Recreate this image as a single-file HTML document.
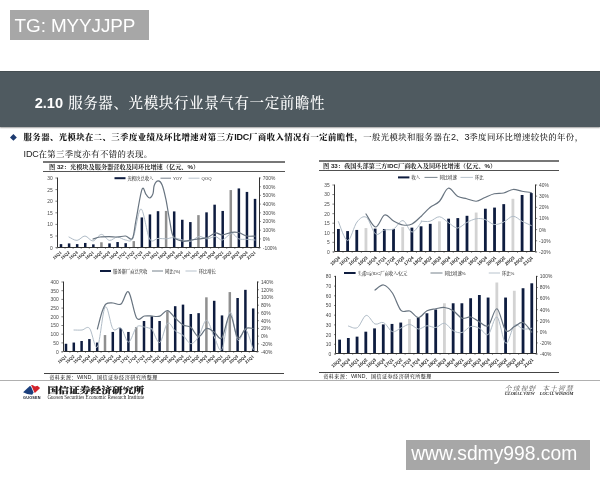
<!DOCTYPE html>
<html lang="zh-CN">
<head>
<meta charset="utf-8">
<title>2.10 服务器、光模块行业景气有一定前瞻性</title>
<style>
html,body{margin:0;padding:0;background:#fff;}
body{width:600px;height:480px;position:relative;overflow:hidden;font-family:"Liberation Sans","Noto Serif CJK SC",sans-serif;color:#111;}
.abs{position:absolute;white-space:nowrap;}
.tag{left:10px;top:10px;width:138.8px;height:29.8px;background:#a7a7a7;color:#fff;font-size:18.9px;line-height:30px;}
.tag span{position:absolute;left:4.6px;top:0.7px;letter-spacing:-0.1px;}
.banner{left:0;top:71px;width:600px;height:56px;background:#4f5a60;border-top:1px solid #454e52;box-sizing:border-box;box-shadow:0 0.6px 1.2px rgba(0,0,0,0.35);}
.title{left:34.7px;top:92.2px;height:22px;line-height:22px;font-size:14.5px;letter-spacing:0.62px;color:#fff;font-weight:500;}
.title b{font-size:14.6px;font-weight:bold;letter-spacing:0;margin-right:0.4px;}
.bul{left:10.3px;top:134.3px;width:6.8px;height:6.8px;}
.p1,.p2{left:23.6px;font-size:8.4px;line-height:12px;height:12px;color:#1a1a1a;letter-spacing:0.4px;}
.p1 i,.p2 i{font-style:normal;font-size:9px;letter-spacing:-0.2px;}
.p1{top:131px;}
.p2{top:148.1px;}
.p1,.p2{font-weight:500;}
.p1 b{font-weight:900;}
.p1 i,.p2 i{font-weight:normal;}
.p1 b i{font-weight:bold;}
.hl{background:#3c3c3c;height:1px;}
.ft{font-size:6.2px;font-weight:bold;color:#222;line-height:8px;height:8px;}
.src{font-size:5.1px;color:#2a2a2a;line-height:8px;height:8px;letter-spacing:0.42px;font-weight:500;}
.src i{font-style:normal;font-size:5.5px;letter-spacing:0;font-weight:normal;}
.wm{left:406px;top:440px;width:184px;height:29.8px;background:#a7a7a7;color:#fff;font-size:19.3px;line-height:30px;}
.wm span{position:absolute;left:5.2px;top:-0.7px;}
.gx{left:47.6px;top:384.3px;font-family:"Liberation Serif","Noto Serif CJK SC",serif;font-weight:900;font-size:10.76px;line-height:12px;color:#151515;-webkit-text-stroke:0.25px #151515;transform:scaleY(0.76);transform-origin:0 50%;}
.gxe{left:47.4px;top:393.7px;font-family:"Liberation Serif",serif;font-size:5.1px;line-height:6px;color:#2a2a2a;}
.sl{left:504.6px;top:385px;font-size:7px;line-height:8px;color:#555;font-style:italic;letter-spacing:0.9px;}
.sle{left:504.8px;top:391.3px;font-family:"Liberation Serif",serif;font-size:4.4px;font-weight:bold;line-height:5px;color:#2a2a2a;font-style:italic;}
svg{position:absolute;left:0;top:0;}
svg text{font-family:"Liberation Sans","Noto Serif CJK SC",sans-serif;}
.al{font-size:4.9px;fill:#484848;}
.xl{font-size:4.2px;fill:#262626;font-weight:bold;}
.lg{font-size:4.3px;fill:#2a2a2a;font-weight:500;}
</style>
</head>
<body>
<div class="abs tag"><span>TG: MYYJJPP</span></div>
<div class="abs banner"></div>
<div class="abs title"><b>2.10</b> 服务器、光模块行业景气有一定前瞻性</div>
<svg class="abs bul" viewBox="0 0 10 10"><path d="M5 0L10 5L5 10L0 5Z" fill="#1d3a70"/></svg>
<div class="abs p1"><b>服务器、光模块在二、三季度业绩及环比增速对第三方<i>IDC</i>厂商收入情况有一定前瞻性，</b>一般光模块和服务器在<i>2</i>、<i>3</i>季度同环比增速较快的年份，</div>
<div class="abs p2"><i>IDC</i>在第三季度亦有不错的表现。</div>

<div class="abs hl" style="left:43px;top:161.2px;width:241.6px;height:1.5px;background:#777;"></div>
<div class="abs ft" style="left:49px;top:162.8px;">图 32：光模块及服务器营收及同环比增速（亿元、%）</div>
<div class="abs hl" style="left:43px;top:170.9px;width:241.6px;height:1.1px;background:#555;"></div>

<div class="abs hl" style="left:319px;top:160.4px;width:239.8px;height:1.3px;background:#777;"></div>
<div class="abs ft" style="left:323px;top:162.1px;">图 33：我国头部第三方IDC厂商收入及同环比增速（亿元、%）</div>
<div class="abs hl" style="left:319px;top:169.9px;width:239.8px;height:1px;background:#505050;"></div>

<svg width="600" height="480" viewBox="0 0 600 480">
<rect x="59.75" y="244.12" width="2.50" height="3.48" fill="#0e1c3f"/>
<rect x="67.84" y="243.42" width="2.50" height="4.18" fill="#0e1c3f"/>
<rect x="75.92" y="244.12" width="2.50" height="3.48" fill="#0e1c3f"/>
<rect x="84.00" y="242.96" width="2.50" height="4.64" fill="#0e1c3f"/>
<rect x="92.09" y="244.35" width="2.50" height="3.25" fill="#0e1c3f"/>
<rect x="100.18" y="242.26" width="2.50" height="5.34" fill="#8f8f8f"/>
<rect x="108.26" y="243.42" width="2.50" height="4.18" fill="#0e1c3f"/>
<rect x="116.34" y="242.03" width="2.50" height="5.57" fill="#0e1c3f"/>
<rect x="124.43" y="243.19" width="2.50" height="4.41" fill="#0e1c3f"/>
<rect x="132.52" y="241.10" width="2.50" height="6.50" fill="#8f8f8f"/>
<rect x="140.60" y="217.44" width="2.50" height="30.16" fill="#0e1c3f"/>
<rect x="148.69" y="214.42" width="2.50" height="33.18" fill="#0e1c3f"/>
<rect x="156.77" y="211.18" width="2.50" height="36.42" fill="#0e1c3f"/>
<rect x="164.86" y="210.94" width="2.50" height="36.66" fill="#8f8f8f"/>
<rect x="172.94" y="211.41" width="2.50" height="36.19" fill="#0e1c3f"/>
<rect x="181.03" y="219.76" width="2.50" height="27.84" fill="#0e1c3f"/>
<rect x="189.11" y="222.08" width="2.50" height="25.52" fill="#0e1c3f"/>
<rect x="197.20" y="215.12" width="2.50" height="32.48" fill="#8f8f8f"/>
<rect x="205.28" y="212.34" width="2.50" height="35.26" fill="#0e1c3f"/>
<rect x="213.37" y="204.68" width="2.50" height="42.92" fill="#0e1c3f"/>
<rect x="221.45" y="210.94" width="2.50" height="36.66" fill="#0e1c3f"/>
<rect x="229.54" y="190.06" width="2.50" height="57.54" fill="#8f8f8f"/>
<rect x="237.62" y="188.44" width="2.50" height="59.16" fill="#0e1c3f"/>
<rect x="245.71" y="191.92" width="2.50" height="55.68" fill="#0e1c3f"/>
<rect x="253.79" y="198.88" width="2.50" height="48.72" fill="#0e1c3f"/>
<path d="M69.00 237.00C70.33 237.57 74.33 240.57 77.00 240.40C79.67 240.23 82.33 235.90 85.00 236.00C87.67 236.10 90.27 241.27 93.00 241.00C95.73 240.73 98.67 234.50 101.40 234.40C104.13 234.30 106.73 239.97 109.40 240.40C112.07 240.83 114.70 237.07 117.40 237.00C120.10 236.93 123.00 239.83 125.60 240.00C128.20 240.17 130.43 243.17 133.00 238.00C135.57 232.83 138.23 208.83 141.00 209.00C143.77 209.17 146.77 234.10 149.60 239.00C152.43 243.90 155.21 238.43 158.00 238.40C160.79 238.37 163.78 238.96 166.33 238.83C168.89 238.71 170.61 237.47 173.33 237.67C176.06 237.86 179.75 239.42 182.67 240.00C185.58 240.58 188.11 241.75 190.83 241.17C193.56 240.58 196.28 236.89 199.00 236.50C201.72 236.11 204.44 238.83 207.17 238.83C209.89 238.83 212.81 236.31 215.33 236.50C217.86 236.69 219.61 240.51 222.33 240.00C225.06 239.49 228.94 233.66 231.67 233.47C234.39 233.27 236.14 237.86 238.67 238.83C241.19 239.81 244.11 239.11 246.83 239.30C249.56 239.49 253.64 239.88 255.00 240.00" fill="none" stroke="#b0bcc7" stroke-width="1.0" stroke-linejoin="round" stroke-linecap="round"/>
<path d="M93.00 239.00C94.17 238.67 97.33 237.40 100.00 237.00C102.67 236.60 106.10 236.60 109.00 236.60C111.90 236.60 114.63 237.10 117.40 237.00C120.17 236.90 123.10 235.77 125.60 236.00C128.10 236.23 130.67 241.07 132.40 238.40C134.13 235.73 134.40 228.17 136.00 220.00C137.60 211.83 140.33 193.67 142.00 189.40C143.67 185.13 144.73 192.97 146.00 194.40C147.27 195.83 148.43 198.13 149.60 198.00C150.77 197.87 152.23 195.70 153.00 193.60C153.77 191.50 153.34 187.51 154.20 185.40C155.06 183.29 156.84 181.04 158.17 180.97C159.49 180.89 160.85 181.90 162.13 184.93C163.42 187.97 164.62 193.29 165.87 199.17C167.11 205.04 168.36 213.94 169.60 220.17C170.84 226.39 171.16 233.00 173.33 236.50C175.51 240.00 179.75 240.58 182.67 241.17C185.58 241.75 188.11 240.39 190.83 240.00C193.56 239.61 196.28 239.22 199.00 238.83C201.72 238.44 204.44 238.64 207.17 237.67C209.89 236.69 212.81 233.47 215.33 233.00C217.86 232.53 219.61 234.98 222.33 234.87C225.06 234.75 228.94 232.69 231.67 232.30C234.39 231.91 236.14 231.91 238.67 232.53C241.19 233.16 244.11 235.45 246.83 236.03C249.56 236.62 253.64 236.03 255.00 236.03" fill="none" stroke="#687480" stroke-width="1.2" stroke-linejoin="round" stroke-linecap="round"/>
<path d="M57.50 177.50 V247.50 H259.50 V177.50" fill="none" stroke="#333" stroke-width="1"/>
<path d="M56.96 247.50v1.3M65.04 247.50v1.3M73.13 247.50v1.3M81.21 247.50v1.3M89.30 247.50v1.3M97.38 247.50v1.3M105.47 247.50v1.3M113.55 247.50v1.3M121.64 247.50v1.3M129.72 247.50v1.3M137.81 247.50v1.3M145.89 247.50v1.3M153.98 247.50v1.3M162.06 247.50v1.3M170.15 247.50v1.3M178.23 247.50v1.3M186.32 247.50v1.3M194.40 247.50v1.3M202.49 247.50v1.3M210.57 247.50v1.3M218.66 247.50v1.3M226.74 247.50v1.3M234.83 247.50v1.3M242.91 247.50v1.3M251.00 247.50v1.3M259.08 247.50v1.3" stroke="#333" stroke-width="0.6"/>
<path d="M57.00 247.60 h-1.6" stroke="#333" stroke-width="0.6"/>
<text x="52.70" y="249.50" text-anchor="end" class="al">0</text>
<path d="M57.00 236.00 h-1.6" stroke="#333" stroke-width="0.6"/>
<text x="52.70" y="237.90" text-anchor="end" class="al">5</text>
<path d="M57.00 224.40 h-1.6" stroke="#333" stroke-width="0.6"/>
<text x="52.70" y="226.30" text-anchor="end" class="al">10</text>
<path d="M57.00 212.80 h-1.6" stroke="#333" stroke-width="0.6"/>
<text x="52.70" y="214.70" text-anchor="end" class="al">15</text>
<path d="M57.00 201.20 h-1.6" stroke="#333" stroke-width="0.6"/>
<text x="52.70" y="203.10" text-anchor="end" class="al">20</text>
<path d="M57.00 189.60 h-1.6" stroke="#333" stroke-width="0.6"/>
<text x="52.70" y="191.50" text-anchor="end" class="al">25</text>
<path d="M57.00 178.00 h-1.6" stroke="#333" stroke-width="0.6"/>
<text x="52.70" y="179.90" text-anchor="end" class="al">30</text>
<path d="M259.20 247.60 h1.6" stroke="#333" stroke-width="0.6"/>
<text x="262.80" y="249.50" text-anchor="start" class="al">-100%</text>
<path d="M259.20 238.90 h1.6" stroke="#333" stroke-width="0.6"/>
<text x="262.80" y="240.80" text-anchor="start" class="al">0%</text>
<path d="M259.20 230.20 h1.6" stroke="#333" stroke-width="0.6"/>
<text x="262.80" y="232.10" text-anchor="start" class="al">100%</text>
<path d="M259.20 221.50 h1.6" stroke="#333" stroke-width="0.6"/>
<text x="262.80" y="223.40" text-anchor="start" class="al">200%</text>
<path d="M259.20 212.80 h1.6" stroke="#333" stroke-width="0.6"/>
<text x="262.80" y="214.70" text-anchor="start" class="al">300%</text>
<path d="M259.20 204.10 h1.6" stroke="#333" stroke-width="0.6"/>
<text x="262.80" y="206.00" text-anchor="start" class="al">400%</text>
<path d="M259.20 195.40 h1.6" stroke="#333" stroke-width="0.6"/>
<text x="262.80" y="197.30" text-anchor="start" class="al">500%</text>
<path d="M259.20 186.70 h1.6" stroke="#333" stroke-width="0.6"/>
<text x="262.80" y="188.60" text-anchor="start" class="al">600%</text>
<path d="M259.20 178.00 h1.6" stroke="#333" stroke-width="0.6"/>
<text x="262.80" y="179.90" text-anchor="start" class="al">700%</text>
<text transform="translate(62.00 253.00) rotate(-41)" text-anchor="end" class="xl" style="font-size:4.2px">15Q1</text>
<text transform="translate(70.09 253.00) rotate(-41)" text-anchor="end" class="xl" style="font-size:4.2px">15Q2</text>
<text transform="translate(78.17 253.00) rotate(-41)" text-anchor="end" class="xl" style="font-size:4.2px">15Q3</text>
<text transform="translate(86.25 253.00) rotate(-41)" text-anchor="end" class="xl" style="font-size:4.2px">15Q4</text>
<text transform="translate(94.34 253.00) rotate(-41)" text-anchor="end" class="xl" style="font-size:4.2px">16Q1</text>
<text transform="translate(102.43 253.00) rotate(-41)" text-anchor="end" class="xl" style="font-size:4.2px">16Q2</text>
<text transform="translate(110.51 253.00) rotate(-41)" text-anchor="end" class="xl" style="font-size:4.2px">16Q3</text>
<text transform="translate(118.59 253.00) rotate(-41)" text-anchor="end" class="xl" style="font-size:4.2px">16Q4</text>
<text transform="translate(126.68 253.00) rotate(-41)" text-anchor="end" class="xl" style="font-size:4.2px">17Q1</text>
<text transform="translate(134.77 253.00) rotate(-41)" text-anchor="end" class="xl" style="font-size:4.2px">17Q2</text>
<text transform="translate(142.85 253.00) rotate(-41)" text-anchor="end" class="xl" style="font-size:4.2px">17Q3</text>
<text transform="translate(150.94 253.00) rotate(-41)" text-anchor="end" class="xl" style="font-size:4.2px">17Q4</text>
<text transform="translate(159.02 253.00) rotate(-41)" text-anchor="end" class="xl" style="font-size:4.2px">18Q1</text>
<text transform="translate(167.11 253.00) rotate(-41)" text-anchor="end" class="xl" style="font-size:4.2px">18Q2</text>
<text transform="translate(175.19 253.00) rotate(-41)" text-anchor="end" class="xl" style="font-size:4.2px">18Q3</text>
<text transform="translate(183.28 253.00) rotate(-41)" text-anchor="end" class="xl" style="font-size:4.2px">18Q4</text>
<text transform="translate(191.36 253.00) rotate(-41)" text-anchor="end" class="xl" style="font-size:4.2px">19Q1</text>
<text transform="translate(199.45 253.00) rotate(-41)" text-anchor="end" class="xl" style="font-size:4.2px">19Q2</text>
<text transform="translate(207.53 253.00) rotate(-41)" text-anchor="end" class="xl" style="font-size:4.2px">19Q3</text>
<text transform="translate(215.62 253.00) rotate(-41)" text-anchor="end" class="xl" style="font-size:4.2px">19Q4</text>
<text transform="translate(223.70 253.00) rotate(-41)" text-anchor="end" class="xl" style="font-size:4.2px">20Q1</text>
<text transform="translate(231.79 253.00) rotate(-41)" text-anchor="end" class="xl" style="font-size:4.2px">20Q2</text>
<text transform="translate(239.87 253.00) rotate(-41)" text-anchor="end" class="xl" style="font-size:4.2px">20Q3</text>
<text transform="translate(247.96 253.00) rotate(-41)" text-anchor="end" class="xl" style="font-size:4.2px">20Q4</text>
<text transform="translate(256.04 253.00) rotate(-41)" text-anchor="end" class="xl" style="font-size:4.2px">21Q1</text>
<rect x="114.50" y="177.20" width="11.00" height="2" fill="#0e1c3f"/>
<text x="127.50" y="180.00" class="lg">光模块总收入</text>
<path d="M160.50 178.20 H171.00" stroke="#687480" stroke-width="0.9"/>
<text x="173.00" y="180.00" class="lg">YOY</text>
<path d="M188.50 178.20 H199.50" stroke="#b0bcc7" stroke-width="0.9"/>
<text x="201.50" y="180.00" class="lg">QOQ</text>
<rect x="64.75" y="343.77" width="2.50" height="7.83" fill="#0e1c3f"/>
<rect x="72.55" y="342.55" width="2.50" height="9.05" fill="#0e1c3f"/>
<rect x="80.35" y="340.99" width="2.50" height="10.61" fill="#0e1c3f"/>
<rect x="88.15" y="339.07" width="2.50" height="12.53" fill="#0e1c3f"/>
<rect x="95.95" y="342.55" width="2.50" height="9.05" fill="#0e1c3f"/>
<rect x="103.75" y="335.07" width="2.50" height="16.53" fill="#8f8f8f"/>
<rect x="111.55" y="331.94" width="2.50" height="19.66" fill="#0e1c3f"/>
<rect x="119.35" y="328.11" width="2.50" height="23.49" fill="#0e1c3f"/>
<rect x="127.15" y="331.94" width="2.50" height="19.66" fill="#0e1c3f"/>
<rect x="134.95" y="327.07" width="2.50" height="24.53" fill="#8f8f8f"/>
<rect x="142.75" y="320.98" width="2.50" height="30.62" fill="#0e1c3f"/>
<rect x="150.55" y="316.28" width="2.50" height="35.32" fill="#0e1c3f"/>
<rect x="158.35" y="320.98" width="2.50" height="30.62" fill="#0e1c3f"/>
<rect x="166.15" y="311.23" width="2.50" height="40.37" fill="#8f8f8f"/>
<rect x="173.95" y="306.19" width="2.50" height="45.41" fill="#0e1c3f"/>
<rect x="181.75" y="304.62" width="2.50" height="46.98" fill="#0e1c3f"/>
<rect x="189.55" y="314.02" width="2.50" height="37.58" fill="#0e1c3f"/>
<rect x="197.35" y="313.15" width="2.50" height="38.45" fill="#0e1c3f"/>
<rect x="205.15" y="297.31" width="2.50" height="54.29" fill="#8f8f8f"/>
<rect x="212.95" y="300.79" width="2.50" height="50.81" fill="#0e1c3f"/>
<rect x="220.75" y="315.41" width="2.50" height="36.19" fill="#0e1c3f"/>
<rect x="228.55" y="292.09" width="2.50" height="59.51" fill="#8f8f8f"/>
<rect x="236.35" y="298.01" width="2.50" height="53.59" fill="#0e1c3f"/>
<rect x="244.15" y="289.83" width="2.50" height="61.77" fill="#0e1c3f"/>
<rect x="251.95" y="308.45" width="2.50" height="43.15" fill="#0e1c3f"/>
<path d="M74.00 330.00C75.33 330.00 79.40 330.27 82.00 330.00C84.60 329.73 87.03 325.57 89.60 328.40C92.17 331.23 94.80 350.57 97.40 347.00C100.00 343.43 102.60 310.00 105.20 307.00C107.80 304.00 110.37 325.50 113.00 329.00C115.63 332.50 118.40 325.83 121.00 328.00C123.60 330.17 126.00 342.17 128.60 342.00C131.20 341.83 133.97 329.50 136.60 327.00C139.23 324.50 141.83 326.67 144.40 327.00C146.97 327.33 150.68 328.56 152.00 329.00C153.32 329.44 151.03 327.42 152.33 329.67C153.63 331.92 157.27 343.59 159.80 342.50C162.33 341.41 164.93 325.08 167.50 323.13C170.07 321.19 172.59 328.77 175.20 330.83C177.81 332.89 180.53 333.36 183.13 335.50C185.74 337.64 188.27 343.47 190.83 343.67C193.40 343.86 195.93 340.56 198.53 336.67C201.14 332.78 203.86 320.33 206.47 320.33C209.07 320.33 211.60 331.81 214.17 336.67C216.73 341.53 219.22 353.58 221.87 349.50C224.51 345.42 227.39 313.72 230.03 312.17C232.68 310.61 235.13 337.25 237.73 340.17C240.34 343.08 243.10 328.11 245.67 329.67C248.23 331.22 251.89 346.19 253.13 349.50" fill="none" stroke="#b0bcc7" stroke-width="1.0" stroke-linejoin="round" stroke-linecap="round"/>
<path d="M97.40 329.00C98.17 326.17 100.57 316.17 102.00 312.00C103.43 307.83 104.17 305.50 106.00 304.00C107.83 302.50 110.50 303.00 113.00 303.00C115.50 303.00 118.40 305.83 121.00 304.00C123.60 302.17 126.00 289.67 128.60 292.00C131.20 294.33 133.97 314.00 136.60 318.00C139.23 322.00 141.83 316.33 144.40 316.00C146.97 315.67 150.68 315.98 152.00 316.00C153.32 316.02 151.03 316.11 152.33 316.13C153.63 316.16 157.27 317.07 159.80 316.13C162.33 315.20 164.93 310.22 167.50 310.53C170.07 310.84 172.59 315.59 175.20 318.00C177.81 320.41 180.53 323.44 183.13 325.00C185.74 326.56 188.27 325.39 190.83 327.33C193.40 329.28 195.93 336.47 198.53 336.67C201.14 336.86 203.86 329.28 206.47 328.50C209.07 327.72 211.60 330.44 214.17 332.00C216.73 333.56 219.22 340.75 221.87 337.83C224.51 334.92 227.39 314.50 230.03 314.50C232.68 314.50 235.13 335.50 237.73 337.83C240.34 340.17 243.10 330.06 245.67 328.50C248.23 326.94 251.89 328.50 253.13 328.50" fill="none" stroke="#687480" stroke-width="1.2" stroke-linejoin="round" stroke-linecap="round"/>
<path d="M63.50 281.50 V351.50 H257.50 V281.50" fill="none" stroke="#333" stroke-width="1"/>
<path d="M62.10 351.50v1.3M69.90 351.50v1.3M77.70 351.50v1.3M85.50 351.50v1.3M93.30 351.50v1.3M101.10 351.50v1.3M108.90 351.50v1.3M116.70 351.50v1.3M124.50 351.50v1.3M132.30 351.50v1.3M140.10 351.50v1.3M147.90 351.50v1.3M155.70 351.50v1.3M163.50 351.50v1.3M171.30 351.50v1.3M179.10 351.50v1.3M186.90 351.50v1.3M194.70 351.50v1.3M202.50 351.50v1.3M210.30 351.50v1.3M218.10 351.50v1.3M225.90 351.50v1.3M233.70 351.50v1.3M241.50 351.50v1.3M249.30 351.50v1.3M257.10 351.50v1.3" stroke="#333" stroke-width="0.6"/>
<path d="M63.00 351.60 h-1.6" stroke="#333" stroke-width="0.6"/>
<text x="58.70" y="353.50" text-anchor="end" class="al">0</text>
<path d="M63.00 342.90 h-1.6" stroke="#333" stroke-width="0.6"/>
<text x="58.70" y="344.80" text-anchor="end" class="al">50</text>
<path d="M63.00 334.20 h-1.6" stroke="#333" stroke-width="0.6"/>
<text x="58.70" y="336.10" text-anchor="end" class="al">100</text>
<path d="M63.00 325.50 h-1.6" stroke="#333" stroke-width="0.6"/>
<text x="58.70" y="327.40" text-anchor="end" class="al">150</text>
<path d="M63.00 316.80 h-1.6" stroke="#333" stroke-width="0.6"/>
<text x="58.70" y="318.70" text-anchor="end" class="al">200</text>
<path d="M63.00 308.10 h-1.6" stroke="#333" stroke-width="0.6"/>
<text x="58.70" y="310.00" text-anchor="end" class="al">250</text>
<path d="M63.00 299.40 h-1.6" stroke="#333" stroke-width="0.6"/>
<text x="58.70" y="301.30" text-anchor="end" class="al">300</text>
<path d="M63.00 290.70 h-1.6" stroke="#333" stroke-width="0.6"/>
<text x="58.70" y="292.60" text-anchor="end" class="al">350</text>
<path d="M63.00 282.00 h-1.6" stroke="#333" stroke-width="0.6"/>
<text x="58.70" y="283.90" text-anchor="end" class="al">400</text>
<path d="M257.30 351.60 h1.6" stroke="#333" stroke-width="0.6"/>
<text x="260.90" y="353.50" text-anchor="start" class="al">-40%</text>
<path d="M257.30 343.87 h1.6" stroke="#333" stroke-width="0.6"/>
<text x="260.90" y="345.77" text-anchor="start" class="al">-20%</text>
<path d="M257.30 336.13 h1.6" stroke="#333" stroke-width="0.6"/>
<text x="260.90" y="338.03" text-anchor="start" class="al">0%</text>
<path d="M257.30 328.40 h1.6" stroke="#333" stroke-width="0.6"/>
<text x="260.90" y="330.30" text-anchor="start" class="al">20%</text>
<path d="M257.30 320.67 h1.6" stroke="#333" stroke-width="0.6"/>
<text x="260.90" y="322.57" text-anchor="start" class="al">40%</text>
<path d="M257.30 312.93 h1.6" stroke="#333" stroke-width="0.6"/>
<text x="260.90" y="314.83" text-anchor="start" class="al">60%</text>
<path d="M257.30 305.20 h1.6" stroke="#333" stroke-width="0.6"/>
<text x="260.90" y="307.10" text-anchor="start" class="al">80%</text>
<path d="M257.30 297.47 h1.6" stroke="#333" stroke-width="0.6"/>
<text x="260.90" y="299.37" text-anchor="start" class="al">100%</text>
<path d="M257.30 289.73 h1.6" stroke="#333" stroke-width="0.6"/>
<text x="260.90" y="291.63" text-anchor="start" class="al">120%</text>
<path d="M257.30 282.00 h1.6" stroke="#333" stroke-width="0.6"/>
<text x="260.90" y="283.90" text-anchor="start" class="al">140%</text>
<text transform="translate(67.00 357.00) rotate(-41)" text-anchor="end" class="xl" style="font-size:4.2px">15Q1</text>
<text transform="translate(74.80 357.00) rotate(-41)" text-anchor="end" class="xl" style="font-size:4.2px">15Q2</text>
<text transform="translate(82.60 357.00) rotate(-41)" text-anchor="end" class="xl" style="font-size:4.2px">15Q3</text>
<text transform="translate(90.40 357.00) rotate(-41)" text-anchor="end" class="xl" style="font-size:4.2px">15Q4</text>
<text transform="translate(98.20 357.00) rotate(-41)" text-anchor="end" class="xl" style="font-size:4.2px">16Q1</text>
<text transform="translate(106.00 357.00) rotate(-41)" text-anchor="end" class="xl" style="font-size:4.2px">16Q2</text>
<text transform="translate(113.80 357.00) rotate(-41)" text-anchor="end" class="xl" style="font-size:4.2px">16Q3</text>
<text transform="translate(121.60 357.00) rotate(-41)" text-anchor="end" class="xl" style="font-size:4.2px">16Q4</text>
<text transform="translate(129.40 357.00) rotate(-41)" text-anchor="end" class="xl" style="font-size:4.2px">17Q1</text>
<text transform="translate(137.20 357.00) rotate(-41)" text-anchor="end" class="xl" style="font-size:4.2px">17Q2</text>
<text transform="translate(145.00 357.00) rotate(-41)" text-anchor="end" class="xl" style="font-size:4.2px">17Q3</text>
<text transform="translate(152.80 357.00) rotate(-41)" text-anchor="end" class="xl" style="font-size:4.2px">17Q4</text>
<text transform="translate(160.60 357.00) rotate(-41)" text-anchor="end" class="xl" style="font-size:4.2px">18Q1</text>
<text transform="translate(168.40 357.00) rotate(-41)" text-anchor="end" class="xl" style="font-size:4.2px">18Q2</text>
<text transform="translate(176.20 357.00) rotate(-41)" text-anchor="end" class="xl" style="font-size:4.2px">18Q3</text>
<text transform="translate(184.00 357.00) rotate(-41)" text-anchor="end" class="xl" style="font-size:4.2px">18Q4</text>
<text transform="translate(191.80 357.00) rotate(-41)" text-anchor="end" class="xl" style="font-size:4.2px">19Q1</text>
<text transform="translate(199.60 357.00) rotate(-41)" text-anchor="end" class="xl" style="font-size:4.2px">19Q2</text>
<text transform="translate(207.40 357.00) rotate(-41)" text-anchor="end" class="xl" style="font-size:4.2px">19Q3</text>
<text transform="translate(215.20 357.00) rotate(-41)" text-anchor="end" class="xl" style="font-size:4.2px">19Q4</text>
<text transform="translate(223.00 357.00) rotate(-41)" text-anchor="end" class="xl" style="font-size:4.2px">20Q1</text>
<text transform="translate(230.80 357.00) rotate(-41)" text-anchor="end" class="xl" style="font-size:4.2px">20Q2</text>
<text transform="translate(238.60 357.00) rotate(-41)" text-anchor="end" class="xl" style="font-size:4.2px">20Q3</text>
<text transform="translate(246.40 357.00) rotate(-41)" text-anchor="end" class="xl" style="font-size:4.2px">20Q4</text>
<text transform="translate(254.20 357.00) rotate(-41)" text-anchor="end" class="xl" style="font-size:4.2px">21Q1</text>
<rect x="100.00" y="270.00" width="11.00" height="2" fill="#0e1c3f"/>
<text x="113.00" y="272.80" class="lg">服务器厂商总营收</text>
<path d="M152.00 271.00 H163.00" stroke="#687480" stroke-width="0.9"/>
<text x="165.00" y="272.80" class="lg">同比(%)</text>
<path d="M185.50 271.00 H196.70" stroke="#b0bcc7" stroke-width="0.9"/>
<text x="198.70" y="272.80" class="lg">环比增长</text>
<rect x="337.00" y="228.98" width="2.80" height="22.92" fill="#0e1c3f"/>
<rect x="346.19" y="231.08" width="2.80" height="20.82" fill="#0e1c3f"/>
<rect x="355.37" y="229.94" width="2.80" height="21.96" fill="#0e1c3f"/>
<rect x="364.56" y="228.03" width="2.80" height="23.88" fill="#d3d3d3"/>
<rect x="373.74" y="228.60" width="2.80" height="23.30" fill="#0e1c3f"/>
<rect x="382.93" y="228.98" width="2.80" height="22.92" fill="#0e1c3f"/>
<rect x="392.11" y="228.98" width="2.80" height="22.92" fill="#0e1c3f"/>
<rect x="401.30" y="227.07" width="2.80" height="24.83" fill="#d3d3d3"/>
<rect x="410.48" y="227.64" width="2.80" height="24.26" fill="#0e1c3f"/>
<rect x="419.67" y="226.31" width="2.80" height="25.59" fill="#0e1c3f"/>
<rect x="428.85" y="223.82" width="2.80" height="28.08" fill="#0e1c3f"/>
<rect x="438.04" y="221.34" width="2.80" height="30.56" fill="#d3d3d3"/>
<rect x="447.22" y="218.67" width="2.80" height="33.23" fill="#0e1c3f"/>
<rect x="456.40" y="218.09" width="2.80" height="33.81" fill="#0e1c3f"/>
<rect x="465.59" y="215.80" width="2.80" height="36.10" fill="#0e1c3f"/>
<rect x="474.77" y="212.55" width="2.80" height="39.35" fill="#d3d3d3"/>
<rect x="483.96" y="208.73" width="2.80" height="43.17" fill="#0e1c3f"/>
<rect x="493.14" y="207.59" width="2.80" height="44.31" fill="#0e1c3f"/>
<rect x="502.33" y="204.15" width="2.80" height="47.75" fill="#0e1c3f"/>
<rect x="511.51" y="198.80" width="2.80" height="53.10" fill="#d3d3d3"/>
<rect x="520.70" y="194.98" width="2.80" height="56.92" fill="#0e1c3f"/>
<rect x="529.88" y="193.07" width="2.80" height="58.83" fill="#0e1c3f"/>
<path d="M338.40 221.60C339.93 224.77 344.50 240.53 347.60 240.60C350.70 240.67 353.87 225.87 357.00 222.00C360.13 218.13 363.30 215.40 366.40 217.40C369.50 219.40 372.57 231.90 375.60 234.00C378.63 236.10 381.60 230.83 384.60 230.00C387.60 229.17 390.53 230.57 393.60 229.00C396.67 227.43 399.93 220.10 403.00 220.60C406.07 221.10 408.93 231.77 412.00 232.00C415.07 232.23 419.86 223.79 421.40 222.00C422.94 220.21 419.82 221.38 421.25 221.25C422.68 221.12 426.96 222.00 430.00 221.25C433.04 220.50 436.46 216.54 439.50 216.75C442.54 216.96 445.25 220.62 448.25 222.50C451.25 224.38 454.42 228.00 457.50 228.00C460.58 228.00 463.62 224.04 466.75 222.50C469.88 220.96 473.21 219.25 476.25 218.75C479.29 218.25 482.00 218.54 485.00 219.50C488.00 220.46 491.12 224.08 494.25 224.50C497.38 224.92 500.62 223.38 503.75 222.00C506.88 220.62 509.96 216.38 513.00 216.25C516.04 216.12 518.96 219.71 522.00 221.25C525.04 222.79 529.71 224.79 531.25 225.50" fill="none" stroke="#b0bcc7" stroke-width="1.0" stroke-linejoin="round" stroke-linecap="round"/>
<path d="M366.00 214.00C367.60 216.17 372.50 226.83 375.60 227.00C378.70 227.17 381.60 216.00 384.60 215.00C387.60 214.00 390.53 219.33 393.60 221.00C396.67 222.67 399.93 224.50 403.00 225.00C406.07 225.50 408.93 225.50 412.00 224.00C415.07 222.50 419.86 217.29 421.40 216.00C422.94 214.71 419.82 217.67 421.25 216.25C422.68 214.83 426.96 210.00 430.00 207.50C433.04 205.00 436.46 204.46 439.50 201.25C442.54 198.04 445.25 189.08 448.25 188.25C451.25 187.42 454.42 194.50 457.50 196.25C460.58 198.00 463.62 197.92 466.75 198.75C469.88 199.58 473.21 201.46 476.25 201.25C479.29 201.04 482.00 198.75 485.00 197.50C488.00 196.25 491.12 194.50 494.25 193.75C497.38 193.00 500.62 193.71 503.75 193.00C506.88 192.29 509.96 189.79 513.00 189.50C516.04 189.21 518.96 190.75 522.00 191.25C525.04 191.75 529.71 192.29 531.25 192.50" fill="none" stroke="#687480" stroke-width="1.2" stroke-linejoin="round" stroke-linecap="round"/>
<path d="M334.50 184.50 V251.50 H535.50 V184.50" fill="none" stroke="#333" stroke-width="1"/>
<path d="M333.81 251.50v1.3M342.99 251.50v1.3M352.18 251.50v1.3M361.36 251.50v1.3M370.55 251.50v1.3M379.73 251.50v1.3M388.92 251.50v1.3M398.10 251.50v1.3M407.29 251.50v1.3M416.47 251.50v1.3M425.66 251.50v1.3M434.84 251.50v1.3M444.03 251.50v1.3M453.21 251.50v1.3M462.40 251.50v1.3M471.58 251.50v1.3M480.77 251.50v1.3M489.95 251.50v1.3M499.14 251.50v1.3M508.32 251.50v1.3M517.51 251.50v1.3M526.69 251.50v1.3M535.88 251.50v1.3" stroke="#333" stroke-width="0.6"/>
<path d="M334.00 251.90 h-1.6" stroke="#333" stroke-width="0.6"/>
<text x="329.70" y="253.80" text-anchor="end" class="al">0</text>
<path d="M334.00 242.34 h-1.6" stroke="#333" stroke-width="0.6"/>
<text x="329.70" y="244.24" text-anchor="end" class="al">5</text>
<path d="M334.00 232.79 h-1.6" stroke="#333" stroke-width="0.6"/>
<text x="329.70" y="234.69" text-anchor="end" class="al">10</text>
<path d="M334.00 223.23 h-1.6" stroke="#333" stroke-width="0.6"/>
<text x="329.70" y="225.13" text-anchor="end" class="al">15</text>
<path d="M334.00 213.67 h-1.6" stroke="#333" stroke-width="0.6"/>
<text x="329.70" y="215.57" text-anchor="end" class="al">20</text>
<path d="M334.00 204.11 h-1.6" stroke="#333" stroke-width="0.6"/>
<text x="329.70" y="206.01" text-anchor="end" class="al">25</text>
<path d="M334.00 194.56 h-1.6" stroke="#333" stroke-width="0.6"/>
<text x="329.70" y="196.46" text-anchor="end" class="al">30</text>
<path d="M334.00 185.00 h-1.6" stroke="#333" stroke-width="0.6"/>
<text x="329.70" y="186.90" text-anchor="end" class="al">35</text>
<path d="M535.50 251.90 h1.6" stroke="#333" stroke-width="0.6"/>
<text x="539.10" y="253.80" text-anchor="start" class="al">-20%</text>
<path d="M535.50 240.75 h1.6" stroke="#333" stroke-width="0.6"/>
<text x="539.10" y="242.65" text-anchor="start" class="al">-10%</text>
<path d="M535.50 229.60 h1.6" stroke="#333" stroke-width="0.6"/>
<text x="539.10" y="231.50" text-anchor="start" class="al">0%</text>
<path d="M535.50 218.45 h1.6" stroke="#333" stroke-width="0.6"/>
<text x="539.10" y="220.35" text-anchor="start" class="al">10%</text>
<path d="M535.50 207.30 h1.6" stroke="#333" stroke-width="0.6"/>
<text x="539.10" y="209.20" text-anchor="start" class="al">20%</text>
<path d="M535.50 196.15 h1.6" stroke="#333" stroke-width="0.6"/>
<text x="539.10" y="198.05" text-anchor="start" class="al">30%</text>
<path d="M535.50 185.00 h1.6" stroke="#333" stroke-width="0.6"/>
<text x="539.10" y="186.90" text-anchor="start" class="al">40%</text>
<text transform="translate(340.40 258.30) rotate(-41)" text-anchor="end" class="xl" style="font-size:4.6px">15Q4</text>
<text transform="translate(349.58 258.30) rotate(-41)" text-anchor="end" class="xl" style="font-size:4.6px">16Q1</text>
<text transform="translate(358.77 258.30) rotate(-41)" text-anchor="end" class="xl" style="font-size:4.6px">16Q2</text>
<text transform="translate(367.95 258.30) rotate(-41)" text-anchor="end" class="xl" style="font-size:4.6px">16Q3</text>
<text transform="translate(377.14 258.30) rotate(-41)" text-anchor="end" class="xl" style="font-size:4.6px">16Q4</text>
<text transform="translate(386.32 258.30) rotate(-41)" text-anchor="end" class="xl" style="font-size:4.6px">17Q1</text>
<text transform="translate(395.51 258.30) rotate(-41)" text-anchor="end" class="xl" style="font-size:4.6px">17Q2</text>
<text transform="translate(404.69 258.30) rotate(-41)" text-anchor="end" class="xl" style="font-size:4.6px">17Q3</text>
<text transform="translate(413.88 258.30) rotate(-41)" text-anchor="end" class="xl" style="font-size:4.6px">17Q4</text>
<text transform="translate(423.06 258.30) rotate(-41)" text-anchor="end" class="xl" style="font-size:4.6px">18Q1</text>
<text transform="translate(432.25 258.30) rotate(-41)" text-anchor="end" class="xl" style="font-size:4.6px">18Q2</text>
<text transform="translate(441.44 258.30) rotate(-41)" text-anchor="end" class="xl" style="font-size:4.6px">18Q3</text>
<text transform="translate(450.62 258.30) rotate(-41)" text-anchor="end" class="xl" style="font-size:4.6px">18Q4</text>
<text transform="translate(459.80 258.30) rotate(-41)" text-anchor="end" class="xl" style="font-size:4.6px">19Q1</text>
<text transform="translate(468.99 258.30) rotate(-41)" text-anchor="end" class="xl" style="font-size:4.6px">19Q2</text>
<text transform="translate(478.17 258.30) rotate(-41)" text-anchor="end" class="xl" style="font-size:4.6px">19Q3</text>
<text transform="translate(487.36 258.30) rotate(-41)" text-anchor="end" class="xl" style="font-size:4.6px">19Q4</text>
<text transform="translate(496.54 258.30) rotate(-41)" text-anchor="end" class="xl" style="font-size:4.6px">20Q1</text>
<text transform="translate(505.73 258.30) rotate(-41)" text-anchor="end" class="xl" style="font-size:4.6px">20Q2</text>
<text transform="translate(514.91 258.30) rotate(-41)" text-anchor="end" class="xl" style="font-size:4.6px">20Q3</text>
<text transform="translate(524.10 258.30) rotate(-41)" text-anchor="end" class="xl" style="font-size:4.6px">20Q4</text>
<text transform="translate(533.28 258.30) rotate(-41)" text-anchor="end" class="xl" style="font-size:4.6px">21Q1</text>
<rect x="398.00" y="176.40" width="11.40" height="2" fill="#0e1c3f"/>
<text x="411.40" y="179.20" class="lg">收入</text>
<path d="M424.50 177.40 H437.50" stroke="#687480" stroke-width="0.9"/>
<text x="439.50" y="179.20" class="lg">同比增速</text>
<path d="M460.50 177.40 H473.00" stroke="#b0bcc7" stroke-width="0.9"/>
<text x="475.00" y="179.20" class="lg">环比</text>
<rect x="338.20" y="339.64" width="2.80" height="14.36" fill="#0e1c3f"/>
<rect x="346.94" y="338.00" width="2.80" height="16.00" fill="#0e1c3f"/>
<rect x="355.67" y="336.64" width="2.80" height="17.36" fill="#0e1c3f"/>
<rect x="364.41" y="331.69" width="2.80" height="22.31" fill="#0e1c3f"/>
<rect x="373.14" y="328.39" width="2.80" height="25.61" fill="#0e1c3f"/>
<rect x="381.88" y="324.42" width="2.80" height="29.59" fill="#0e1c3f"/>
<rect x="390.61" y="323.93" width="2.80" height="30.07" fill="#0e1c3f"/>
<rect x="399.35" y="322.57" width="2.80" height="31.43" fill="#0e1c3f"/>
<rect x="408.08" y="319.08" width="2.80" height="34.92" fill="#d3d3d3"/>
<rect x="416.82" y="317.62" width="2.80" height="36.38" fill="#0e1c3f"/>
<rect x="425.55" y="313.26" width="2.80" height="40.74" fill="#0e1c3f"/>
<rect x="434.29" y="309.48" width="2.80" height="44.52" fill="#0e1c3f"/>
<rect x="443.02" y="303.27" width="2.80" height="50.73" fill="#d3d3d3"/>
<rect x="451.76" y="303.27" width="2.80" height="50.73" fill="#0e1c3f"/>
<rect x="460.49" y="303.27" width="2.80" height="50.73" fill="#0e1c3f"/>
<rect x="469.23" y="298.23" width="2.80" height="55.77" fill="#0e1c3f"/>
<rect x="477.96" y="295.02" width="2.80" height="58.98" fill="#0e1c3f"/>
<rect x="486.70" y="297.55" width="2.80" height="56.45" fill="#0e1c3f"/>
<rect x="495.43" y="282.51" width="2.80" height="71.49" fill="#d3d3d3"/>
<rect x="504.17" y="297.55" width="2.80" height="56.45" fill="#0e1c3f"/>
<rect x="512.90" y="290.76" width="2.80" height="63.24" fill="#d3d3d3"/>
<rect x="521.64" y="288.23" width="2.80" height="65.77" fill="#0e1c3f"/>
<rect x="530.37" y="283.29" width="2.80" height="70.71" fill="#0e1c3f"/>
<path d="M348.40 326.00C349.90 326.27 354.43 329.37 357.40 327.60C360.37 325.83 363.27 316.00 366.20 315.40C369.13 314.80 372.10 322.80 375.00 324.00C377.90 325.20 380.70 321.33 383.60 322.60C386.50 323.87 389.50 330.70 392.40 331.60C395.30 332.50 398.10 329.20 401.00 328.00C403.90 326.80 406.90 324.23 409.80 324.40C412.70 324.57 415.53 328.77 418.40 329.00C421.27 329.23 424.11 326.00 427.00 325.75C429.89 325.50 432.83 327.92 435.75 327.50C438.67 327.08 441.58 322.71 444.50 323.25C447.42 323.79 450.33 329.21 453.25 330.75C456.17 332.29 459.08 333.21 462.00 332.50C464.92 331.79 467.83 327.21 470.75 326.50C473.67 325.79 476.58 326.92 479.50 328.25C482.42 329.58 485.33 336.38 488.25 334.50C491.17 332.62 494.08 315.54 497.00 317.00C499.92 318.46 502.83 341.88 505.75 343.25C508.67 344.62 511.62 327.62 514.50 325.25C517.38 322.88 520.12 328.50 523.00 329.00C525.88 329.50 530.29 328.38 531.75 328.25" fill="none" stroke="#b0bcc7" stroke-width="1.0" stroke-linejoin="round" stroke-linecap="round"/>
<path d="M375.00 290.00C376.43 289.17 380.70 284.50 383.60 285.00C386.50 285.50 389.50 288.77 392.40 293.00C395.30 297.23 398.10 307.40 401.00 310.40C403.90 313.40 406.90 309.80 409.80 311.00C412.70 312.20 415.53 317.64 418.40 317.60C421.27 317.56 424.11 312.23 427.00 310.75C429.89 309.27 432.83 309.29 435.75 308.75C438.67 308.21 441.58 307.17 444.50 307.50C447.42 307.83 450.33 308.96 453.25 310.75C456.17 312.54 459.08 317.21 462.00 318.25C464.92 319.29 467.83 316.38 470.75 317.00C473.67 317.62 476.58 320.54 479.50 322.00C482.42 323.46 485.33 327.96 488.25 325.75C491.17 323.54 494.08 307.92 497.00 308.75C499.92 309.58 502.83 327.79 505.75 330.75C508.67 333.71 511.62 327.88 514.50 326.50C517.38 325.12 520.12 321.58 523.00 322.50C525.88 323.42 530.29 330.42 531.75 332.00" fill="none" stroke="#687480" stroke-width="1.2" stroke-linejoin="round" stroke-linecap="round"/>
<path d="M335.50 275.90 V353.50 H536.50 V275.90" fill="none" stroke="#333" stroke-width="1"/>
<path d="M335.23 353.50v1.3M343.97 353.50v1.3M352.70 353.50v1.3M361.44 353.50v1.3M370.17 353.50v1.3M378.91 353.50v1.3M387.64 353.50v1.3M396.38 353.50v1.3M405.11 353.50v1.3M413.85 353.50v1.3M422.58 353.50v1.3M431.32 353.50v1.3M440.05 353.50v1.3M448.79 353.50v1.3M457.52 353.50v1.3M466.26 353.50v1.3M474.99 353.50v1.3M483.73 353.50v1.3M492.46 353.50v1.3M501.20 353.50v1.3M509.93 353.50v1.3M518.67 353.50v1.3M527.40 353.50v1.3M536.14 353.50v1.3" stroke="#333" stroke-width="0.6"/>
<path d="M335.60 354.00 h-1.6" stroke="#333" stroke-width="0.6"/>
<text x="331.30" y="355.90" text-anchor="end" class="al">0</text>
<path d="M335.60 344.30 h-1.6" stroke="#333" stroke-width="0.6"/>
<text x="331.30" y="346.20" text-anchor="end" class="al">10</text>
<path d="M335.60 334.60 h-1.6" stroke="#333" stroke-width="0.6"/>
<text x="331.30" y="336.50" text-anchor="end" class="al">20</text>
<path d="M335.60 324.90 h-1.6" stroke="#333" stroke-width="0.6"/>
<text x="331.30" y="326.80" text-anchor="end" class="al">30</text>
<path d="M335.60 315.20 h-1.6" stroke="#333" stroke-width="0.6"/>
<text x="331.30" y="317.10" text-anchor="end" class="al">40</text>
<path d="M335.60 305.50 h-1.6" stroke="#333" stroke-width="0.6"/>
<text x="331.30" y="307.40" text-anchor="end" class="al">50</text>
<path d="M335.60 295.80 h-1.6" stroke="#333" stroke-width="0.6"/>
<text x="331.30" y="297.70" text-anchor="end" class="al">60</text>
<path d="M335.60 286.10 h-1.6" stroke="#333" stroke-width="0.6"/>
<text x="331.30" y="288.00" text-anchor="end" class="al">70</text>
<path d="M335.60 276.40 h-1.6" stroke="#333" stroke-width="0.6"/>
<text x="331.30" y="278.30" text-anchor="end" class="al">80</text>
<path d="M536.25 354.00 h1.6" stroke="#333" stroke-width="0.6"/>
<text x="539.85" y="355.90" text-anchor="start" class="al">-40%</text>
<path d="M536.25 342.91 h1.6" stroke="#333" stroke-width="0.6"/>
<text x="539.85" y="344.81" text-anchor="start" class="al">-20%</text>
<path d="M536.25 331.83 h1.6" stroke="#333" stroke-width="0.6"/>
<text x="539.85" y="333.73" text-anchor="start" class="al">0%</text>
<path d="M536.25 320.74 h1.6" stroke="#333" stroke-width="0.6"/>
<text x="539.85" y="322.64" text-anchor="start" class="al">20%</text>
<path d="M536.25 309.66 h1.6" stroke="#333" stroke-width="0.6"/>
<text x="539.85" y="311.56" text-anchor="start" class="al">40%</text>
<path d="M536.25 298.57 h1.6" stroke="#333" stroke-width="0.6"/>
<text x="539.85" y="300.47" text-anchor="start" class="al">60%</text>
<path d="M536.25 287.49 h1.6" stroke="#333" stroke-width="0.6"/>
<text x="539.85" y="289.39" text-anchor="start" class="al">80%</text>
<path d="M536.25 276.40 h1.6" stroke="#333" stroke-width="0.6"/>
<text x="539.85" y="278.30" text-anchor="start" class="al">100%</text>
<text transform="translate(341.60 360.40) rotate(-41)" text-anchor="end" class="xl" style="font-size:4.6px">15Q3</text>
<text transform="translate(350.34 360.40) rotate(-41)" text-anchor="end" class="xl" style="font-size:4.6px">15Q4</text>
<text transform="translate(359.07 360.40) rotate(-41)" text-anchor="end" class="xl" style="font-size:4.6px">16Q1</text>
<text transform="translate(367.81 360.40) rotate(-41)" text-anchor="end" class="xl" style="font-size:4.6px">16Q2</text>
<text transform="translate(376.54 360.40) rotate(-41)" text-anchor="end" class="xl" style="font-size:4.6px">16Q3</text>
<text transform="translate(385.28 360.40) rotate(-41)" text-anchor="end" class="xl" style="font-size:4.6px">16Q4</text>
<text transform="translate(394.01 360.40) rotate(-41)" text-anchor="end" class="xl" style="font-size:4.6px">17Q1</text>
<text transform="translate(402.75 360.40) rotate(-41)" text-anchor="end" class="xl" style="font-size:4.6px">17Q2</text>
<text transform="translate(411.48 360.40) rotate(-41)" text-anchor="end" class="xl" style="font-size:4.6px">17Q3</text>
<text transform="translate(420.22 360.40) rotate(-41)" text-anchor="end" class="xl" style="font-size:4.6px">17Q4</text>
<text transform="translate(428.95 360.40) rotate(-41)" text-anchor="end" class="xl" style="font-size:4.6px">18Q1</text>
<text transform="translate(437.69 360.40) rotate(-41)" text-anchor="end" class="xl" style="font-size:4.6px">18Q2</text>
<text transform="translate(446.42 360.40) rotate(-41)" text-anchor="end" class="xl" style="font-size:4.6px">18Q3</text>
<text transform="translate(455.16 360.40) rotate(-41)" text-anchor="end" class="xl" style="font-size:4.6px">18Q4</text>
<text transform="translate(463.89 360.40) rotate(-41)" text-anchor="end" class="xl" style="font-size:4.6px">19Q1</text>
<text transform="translate(472.62 360.40) rotate(-41)" text-anchor="end" class="xl" style="font-size:4.6px">19Q2</text>
<text transform="translate(481.36 360.40) rotate(-41)" text-anchor="end" class="xl" style="font-size:4.6px">19Q3</text>
<text transform="translate(490.10 360.40) rotate(-41)" text-anchor="end" class="xl" style="font-size:4.6px">19Q4</text>
<text transform="translate(498.83 360.40) rotate(-41)" text-anchor="end" class="xl" style="font-size:4.6px">20Q1</text>
<text transform="translate(507.56 360.40) rotate(-41)" text-anchor="end" class="xl" style="font-size:4.6px">20Q2</text>
<text transform="translate(516.30 360.40) rotate(-41)" text-anchor="end" class="xl" style="font-size:4.6px">20Q3</text>
<text transform="translate(525.04 360.40) rotate(-41)" text-anchor="end" class="xl" style="font-size:4.6px">20Q4</text>
<text transform="translate(533.77 360.40) rotate(-41)" text-anchor="end" class="xl" style="font-size:4.6px">21Q1</text>
<rect x="344.00" y="272.00" width="11.60" height="2" fill="#0e1c3f"/>
<text x="357.60" y="274.80" class="lg">头部5家IDC厂商收入/亿元</text>
<path d="M430.50 273.00 H442.50" stroke="#687480" stroke-width="0.9"/>
<text x="444.50" y="274.80" class="lg">同比增速%</text>
<path d="M488.75 273.00 H500.00" stroke="#b0bcc7" stroke-width="0.9"/>
<text x="502.00" y="274.80" class="lg">环比%</text>
</svg>

<div class="abs hl" style="left:44px;top:372.9px;width:240.3px;height:1px;background:#444;"></div>
<div class="abs src" style="left:49.3px;top:373.4px;">资料来源：<i>WIND</i>、国信证券经济研究所整理</div>
<div class="abs hl" style="left:319px;top:372px;width:239.8px;height:1px;background:#444;"></div>
<div class="abs src" style="left:323.3px;top:372.4px;">资料来源：<i>WIND</i>、国信证券经济研究所整理</div>
<div class="abs" style="left:0;top:379.8px;width:600px;height:0.9px;background:#b0b0b0;"></div>

<svg class="abs" width="600" height="480" viewBox="0 0 600 480">
<path d="M23.1 392.3L29.8 386.1L31 386.5L33.6 392.4L32.1 394.8L27.2 393.9Z" fill="#1b3f7d"/>
<path d="M30.7 385.5L32.5 384.9L35 386.5L37.5 385.8L40.1 388L34.9 393.1L34.2 392.1L31.7 386.3Z" fill="#d3222a"/>
<text x="31.9" y="398.9" text-anchor="middle" style="font-family:'Liberation Sans',sans-serif;font-weight:bold;font-size:3.8px;fill:#111827;letter-spacing:0.22px">GUOSEN</text>
</svg>
<div class="abs gx">国信证券经济研究所</div>
<div class="abs gxe">Guosen Securities Economic Research Institute</div>
<div class="abs sl">全球视野<span style="margin-left:5.8px">本土智慧</span></div>
<div class="abs sle">GLOBAL VIEW<span style="margin-left:5px">LOCAL WISDOM</span></div>

<div class="abs wm"><span>www.sdmy998.com</span></div>
</body>
</html>
